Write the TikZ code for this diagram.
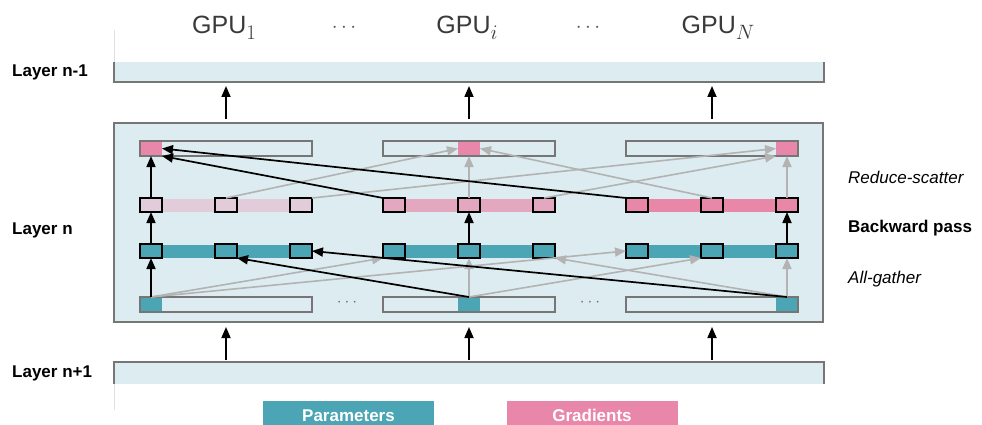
\documentclass[tikz,border=0pt]{standalone}
\usepackage{fontspec}
\setmainfont{Liberation Sans}
\usetikzlibrary{arrows.meta}
\definecolor{lb}{HTML}{DCECF1}
\definecolor{bordgray}{HTML}{767676}
\definecolor{tealc}{HTML}{4BA5B5}
\definecolor{pk}{HTML}{E887A9}
\definecolor{pkA}{HTML}{E2CCDA}
\definecolor{pkB}{HTML}{E3A8C0}
\definecolor{pkC}{HTML}{E887A8}
\definecolor{arrgray}{HTML}{B3B3B3}
\definecolor{gputext}{HTML}{3A3A3A}
\newcommand{\gpusub}[1]{\raisebox{-6pt}{\fontsize{21}{24}\selectfont$#1$}}
\begin{document}
\begin{tikzpicture}[x=1pt,y=-1pt,
  lbl/.style={font=\fontsize{17}{20}\selectfont\bfseries, anchor=west, inner sep=0pt},
  ilbl/.style={font=\fontsize{17}{20}\selectfont\itshape, anchor=west, inner sep=0pt},
  gpulbl/.style={font=\fontsize{25}{28}\selectfont, text=gputext, anchor=base, inner sep=0pt},
  sq/.style={draw=black, line width=1.7pt, minimum width=22pt, minimum height=14pt, inner sep=0pt, outer sep=0pt},
  seg/.style={inner sep=0pt, outer sep=0pt, minimum width=22pt, minimum height=15pt},
  shard/.style={fill=lb, inner sep=0pt, outer sep=0pt, minimum width=172pt, minimum height=15pt},
  blk/.style={line width=1.7pt, draw=black, -{Triangle[length=11pt,width=9pt]}},
  gry/.style={line width=1.6pt, draw=arrgray, -{Triangle[length=11pt,width=9pt]}},
  legend/.style={inner sep=0pt, outer sep=0pt, minimum width=171pt, minimum height=28pt},
  legtext/.style={text=white, font=\fontsize{17}{20}\selectfont\bfseries, anchor=base, inner sep=0pt}
]
\clip (0,0) rectangle (982,425);
\fill[white] (0,0) rectangle (982,425);

% faint guide lines
\draw[black!12, line width=0.8pt] (114,30) -- (114,62);
\draw[black!12, line width=0.8pt] (114,384) -- (114,410);

% layer bars
\node[fill=lb, inner sep=0pt, outer sep=0pt, minimum width=710pt, minimum height=20pt] (ln1) at (469,72) {};
\draw[bordgray, line width=2pt] (ln1.north west) -- (ln1.south west) -- (ln1.south east) -- (ln1.north east);
\node[fill=lb, inner sep=0pt, outer sep=0pt, minimum width=710pt, minimum height=22pt] (lp1) at (469,373) {};
\draw[bordgray, line width=2pt] (lp1.south west) -- (lp1.north west) -- (lp1.north east) -- (lp1.south east);
\node[draw=bordgray, line width=2pt, fill=lb, inner sep=0pt, outer sep=0pt, minimum width=709pt, minimum height=199pt] (box) at (468.5,222.5) {};

% labels
\node[lbl] (t1) at (12,72) {Layer n-1};
\node[lbl] (t2) at (12,230) {Layer n};
\node[lbl] (t3) at (12,373) {Layer n+1};
\node[ilbl] (r1) at (848,177) {Reduce-scatter};
\node[lbl] (r2) at (848,228) {Backward pass};
\node[ilbl] (r3) at (848,279) {All-gather};

\node[gpulbl] (g1) at (224,34) {GPU\gpusub{1}};
\node[gpulbl] (gi) at (467,34) {GPU\gpusub{i}};
\node[gpulbl] (gN) at (718,34) {GPU\gpusub{N}};
\node[gpulbl, font=\fontsize{20}{24}\selectfont, text=black!65] (d1) at (344,33) {$\cdots$};
\node[gpulbl, font=\fontsize{20}{24}\selectfont, text=black!65] (d2) at (588,33) {$\cdots$};

% columns
\foreach \c/\x/\k/\bc in {1/140/0/pkA, i/383/1/pkB, N/626/2/pkC}{
  \node[shard] (tb-\c) at (\x+86,148.5) {};
  \node[seg, fill=pk] (ts-\c) at (\x+11+75*\k,148.5) {};
  \draw[bordgray, line width=1.5pt] (tb-\c.north west) rectangle (tb-\c.south east);
  \node[shard] (bb-\c) at (\x+86,304.5) {};
  \node[seg, fill=tealc] (bs-\c) at (\x+11+75*\k,304.5) {};
  \draw[bordgray, line width=1.5pt] (bb-\c.north west) rectangle (bb-\c.south east);
  \fill[\bc] (\x,198.5) rectangle (\x+172,211.5);
  \fill[tealc] (\x,244.5) rectangle (\x+172,257.5);
  \foreach \m in {1,2,3}{
    \node[sq, fill=\bc] (p-\c-\m) at (\x+11+75*\m-75,205) {};
    \node[sq, fill=tealc] (t-\c-\m) at (\x+11+75*\m-75,251) {};
  }
  \draw[blk, shorten <=4pt, shorten >=4pt] (box.north -| tb-\c) -- (ln1.south -| tb-\c);
  \draw[blk, shorten <=2pt, shorten >=5pt] (lp1.north -| tb-\c) -- (box.south -| tb-\c);
}

% dots in bottom row
\node[font=\fontsize{17}{20}\selectfont, text=black!55, inner sep=0pt] (e1) at (347,303) {$\cdots$};
\node[font=\fontsize{17}{20}\selectfont, text=black!55, inner sep=0pt] (e2) at (590,303) {$\cdots$};

% gray arrows
\draw[gry] (bs-1.north) -- (t-i-1.south west);
\draw[gry] (bs-1.north) -- (t-N-1.west);
\draw[gry] (bs-i.north) -- (t-N-2.south west);
\draw[gry] (bs-N.north) -- (t-i-3.south east);
\draw[gry] (bs-i.north) -- (t-i-2.south);
\draw[gry] (bs-N.north) -- (t-N-3.south);
\draw[gry] (p-1-2.north) -- (ts-i.west);
\draw[gry] (p-N-2.north) -- (ts-i.east);
\draw[gry] (p-1-3.north east) -- (ts-N.west);
\draw[gry] (p-i-3.north) -- (ts-N.south west);
\draw[gry] (p-i-2.north) -- (ts-i.south);
\draw[gry] (p-N-3.north) -- (ts-N.south);

% black arrows
\draw[blk] (bs-1.north) -- (t-1-1.south);
\draw[blk] (t-1-1.north) -- (p-1-1.south);
\draw[blk] (p-1-1.north) -- (ts-1.south);
\draw[blk] (t-i-2.north) -- (p-i-2.south);
\draw[blk] (t-N-3.north) -- (p-N-3.south);
\draw[blk] (bs-i.north) -- (t-1-2.south east);
\draw[blk] (bs-N.north) -- (t-1-3.east);
\draw[blk] (p-i-1.north west) -- (ts-1.south east);
\draw[blk] (p-N-1.north west) -- (ts-1.east);

% legend
\node[legend, fill=tealc, anchor=north] (lgp) at (348.5,401) {};
\node[legtext] (lgpt) at (348.5,421) {Parameters};
\node[legend, fill=pk, anchor=north] (lgg) at (592,401) {};
\node[legtext] (lggt) at (592,421) {Gradients};
\end{tikzpicture}
\end{document}
